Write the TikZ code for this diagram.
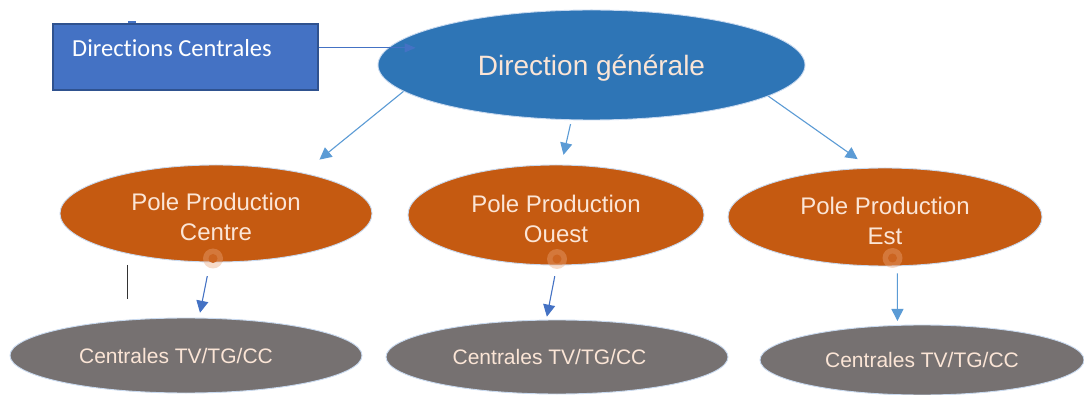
\documentclass[tikz,border=0pt]{standalone}
\usepackage{fontspec}
\setmainfont{Liberation Sans}
\newfontfamily\calibrifont[Ligatures=NoCommon]{Carlito}
\usetikzlibrary{shapes.geometric,arrows.meta,calc}
\definecolor{dgblue}{HTML}{2E75B6}
\definecolor{poleorange}{HTML}{C55A11}
\definecolor{centgray}{HTML}{767171}
\definecolor{dcfill}{HTML}{4472C4}
\definecolor{dcedge}{HTML}{2F528F}
\definecolor{arrlight}{HTML}{5B9BD5}
\definecolor{arrdark}{HTML}{4472C4}
\definecolor{peach}{HTML}{FBE5D6}
\definecolor{rimblue}{HTML}{C9DAF0}
\definecolor{glow}{HTML}{EBA57A}
\definecolor{glowcore}{HTML}{CC6420}
\tikzset{
  ell/.style={ellipse, inner sep=0pt, draw=rimblue, line width=0.9pt, text=peach, align=center},
  dgell/.style={ell, fill=dgblue, font=\fontsize{28}{30}\selectfont, text depth=0pt},
  poleell/.style={ell, fill=poleorange, font=\fontsize{24}{30}\selectfont},
  centell/.style={ell, fill=centgray, font=\fontsize{21}{24}\selectfont, text depth=0pt},
  dcbox/.style={rectangle, fill=dcfill, draw=dcedge, line width=1.4pt, inner sep=0pt},
  dctext/.style={text=white, font=\calibrifont\fontsize{24.5}{28}\selectfont, inner sep=0pt},
  arrl/.style={draw=arrlight, line width=1.1pt, -{Triangle[length=12pt,width=12pt]}},
  arrd/.style={draw=arrdark, line width=1.1pt, -{Triangle[length=12pt,width=12pt]}},
  arrdc/.style={draw=arrdark, line width=1pt, -{Triangle[length=11pt,width=9pt]}},
  glowdot/.style={circle, inner sep=0pt, minimum size=20pt, fill=glow, fill opacity=0.4},
  glowin/.style={circle, inner sep=0pt, minimum size=9pt, fill=glowcore}
}
\begin{document}
\begin{tikzpicture}[x=1pt,y=-1pt]
\useasboundingbox (0,0) rectangle (1084,395);
\fill[white] (0,0) rectangle (1084,395);

% Directions Centrales box
\fill[dcfill] (128,21.5) rectangle (136,24);
\node[dcbox, minimum width=265pt, minimum height=66pt] (dc) at (185.5,57) {};
\node[dctext, anchor=base west] (dct) at (72,56.5) {Directions Centrales};

% Direction generale
\node[dgell, minimum width=427pt, minimum height=110pt] (dg) at (591.5,65) {Direction générale};

% Poles
\node[poleell, minimum width=312pt, minimum height=97pt] (pc) at (216,213.5) {\rule{0pt}{25pt}Pole Production\\Centre};
\node[poleell, minimum width=296pt, minimum height=100pt] (po) at (556,215) {\rule{0pt}{25pt}Pole Production\\Ouest};
\node[poleell, minimum width=314pt, minimum height=98pt] (pe) at (885,217) {\rule{0pt}{25pt}Pole Production\\Est};

% Centrales
\node[centell, minimum width=352pt, minimum height=75pt] (cc) at (186,355.5) {Centrales TV/TG/CC\hspace{20pt}};
\node[centell, minimum width=342pt, minimum height=74pt] (co) at (557,357) {Centrales TV/TG/CC\hspace{15pt}};
\node[centell, minimum width=324pt, minimum height=70pt] (ce) at (922,360) {Centrales TV/TG/CC};

% connection glows
\node[glowdot] (gc) at (213,258.5) {};
\node[glowin] (gci) at (213,258.5) {};
\node[glowdot] (go) at (557,259) {};
\node[glowin] (goi) at (557,259) {};
\node[glowdot] (ge) at (892.5,258) {};
\node[glowin] (gei) at (892.5,258) {};

% connectors
\draw[arrdc] ($(dc.north east)!0.364!(dc.south east)$) -- ++(97,0);
\draw[arrl, shorten >=21pt] (dg.188.8) -- (pc.25.2);
\draw[arrl, shorten <=4pt, shorten >=10pt] (dg.250) -- (po.84.3);
\draw[arrl, shorten >=15pt] (dg.-10.7) -- (pe.107.7);
\draw[arrd, shorten <=14pt, shorten >=5pt] (pc.263) -- (cc.71);
\draw[arrd, shorten <=11pt, shorten >=3pt] (po.271) -- (co.106);
\draw[arrl, shorten <=7pt, shorten >=4pt] (pe.-76.2) -- (ce.125);

% stray vertical mark
\coordinate (vm1) at (127.3,265);
\coordinate (vm2) at (127.3,299);
\draw[black!80, line width=1.3pt] (vm1) -- (vm2);
\end{tikzpicture}
\end{document}
